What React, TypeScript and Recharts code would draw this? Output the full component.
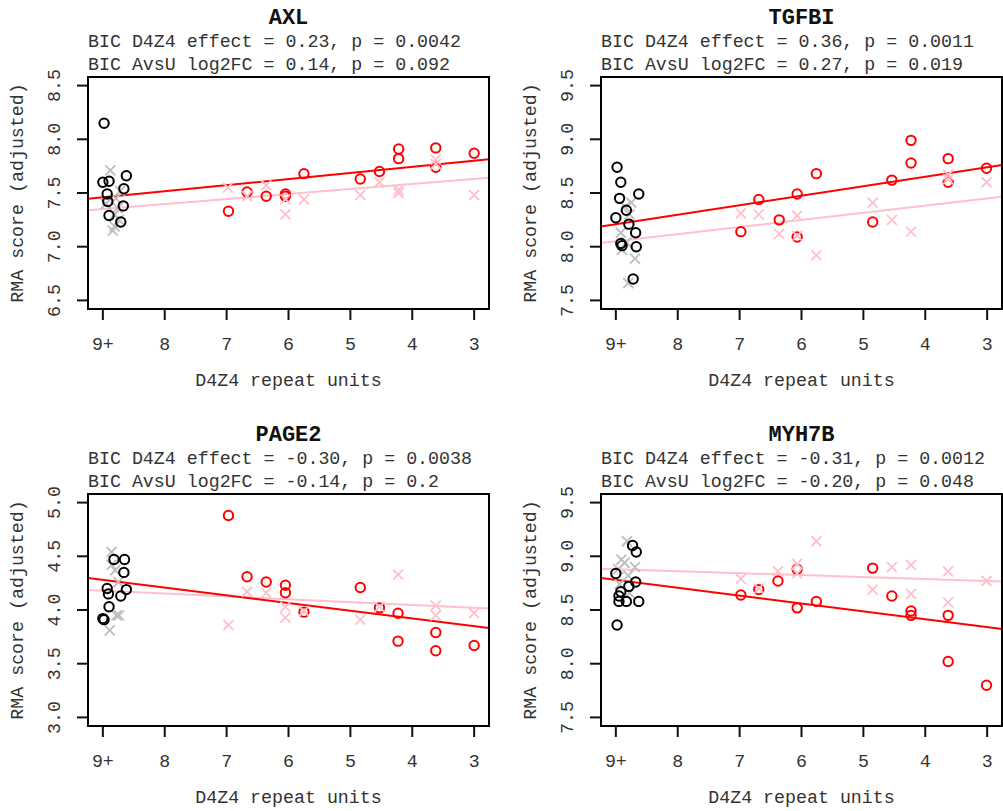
import { ReferenceLine, Scatter, ScatterChart, XAxis, YAxis } from 'recharts';

type Pt = [number, number];

// x axis: D4Z4 repeat units, 9+ drawn at 9, axis runs right to left
const xTicks = [9, 8, 7, 6, 5, 4, 3];
const xTickLabels = ['9+', '8', '7', '6', '5', '4', '3'];
const xDomain: [number, number] = [2.76, 9.24];

// ---- AXL ----
const axlCtrlCircles: Pt[] = [
  [8.98, 8.15], [9.0, 7.6], [8.9, 7.61], [8.62, 7.66], [8.66, 7.54],
  [8.93, 7.49], [8.92, 7.42], [8.67, 7.38], [8.9, 7.29], [8.71, 7.23],
];
const axlCtrlCrosses: Pt[] = [
  [8.88, 7.71], [8.79, 7.45], [8.76, 7.36], [8.81, 7.3], [8.74, 7.25],
  [8.81, 7.19], [8.84, 7.15], [8.95, 7.4], [8.72, 7.52],
];
const axlCircles: Pt[] = [
  [6.97, 7.33], [6.67, 7.51], [6.36, 7.47], [6.05, 7.49], [6.05, 7.47], [5.75, 7.68],
  [4.84, 7.63], [4.53, 7.7], [4.22, 7.91], [4.22, 7.82], [3.62, 7.92], [3.62, 7.74], [3.0, 7.87],
];
const axlCrosses: Pt[] = [
  [6.98, 7.55], [6.67, 7.47], [6.36, 7.57], [6.05, 7.44], [6.05, 7.3], [5.75, 7.44],
  [4.84, 7.48], [4.53, 7.6], [4.22, 7.53], [4.22, 7.5], [3.62, 7.81], [3.62, 7.77], [3.0, 7.48],
];
// fitted values at x = 9 and x = 3
const axlFitCircles = [7.46, 7.8];
const axlFitCrosses = [7.35, 7.63];

// ---- TGFBI ----
const tgfbiCtrlCircles: Pt[] = [
  [8.98, 8.74], [8.92, 8.6], [8.94, 8.45], [8.63, 8.49], [8.83, 8.34], [9.0, 8.27],
  [8.79, 8.21], [8.68, 8.13], [8.92, 8.03], [8.9, 8.01], [8.67, 8.0], [8.72, 7.7],
];
const tgfbiCtrlCrosses: Pt[] = [
  [8.75, 8.41], [8.85, 8.37], [8.92, 8.13], [8.9, 7.97], [8.69, 7.89],
  [8.8, 7.66], [8.83, 8.04], [8.78, 8.3],
];
const tgfbiCircles: Pt[] = [
  [6.98, 8.14], [6.69, 8.44], [6.36, 8.25], [6.07, 8.49], [6.07, 8.09], [5.76, 8.68],
  [4.85, 8.23], [4.54, 8.62], [4.23, 8.99], [4.23, 8.78], [3.63, 8.82], [3.63, 8.6], [3.01, 8.73],
];
const tgfbiCrosses: Pt[] = [
  [6.98, 8.31], [6.69, 8.3], [6.36, 8.12], [6.07, 8.29], [6.07, 8.1], [5.76, 7.92],
  [4.85, 8.41], [4.54, 8.25], [4.23, 8.14], [3.63, 8.67], [3.63, 8.63], [3.01, 8.6],
];
const tgfbiFitCircles = [8.21, 8.74];
const tgfbiFitCrosses = [8.05, 8.45];

// ---- PAGE2 ----
const page2CtrlCircles: Pt[] = [
  [8.82, 4.47], [8.65, 4.47], [8.66, 4.35], [8.93, 4.2], [8.62, 4.19],
  [8.91, 4.15], [8.71, 4.13], [8.9, 4.03], [9.0, 3.92], [8.98, 3.91],
];
const page2CtrlCrosses: Pt[] = [
  [8.86, 4.54], [8.86, 4.42], [8.75, 4.26], [8.78, 3.95], [8.74, 3.95], [8.89, 3.81], [8.8, 4.37],
];
const page2Circles: Pt[] = [
  [6.97, 4.88], [6.67, 4.31], [6.36, 4.26], [6.05, 4.23], [6.05, 4.16], [5.75, 3.98],
  [4.84, 4.21], [4.53, 4.02], [4.23, 3.97], [4.23, 3.71], [3.62, 3.79], [3.62, 3.62], [3.0, 3.67],
];
const page2Crosses: Pt[] = [
  [6.97, 3.86], [6.67, 4.17], [6.36, 4.16], [6.05, 4.03], [6.05, 3.93], [5.75, 3.99],
  [4.84, 3.91], [4.53, 4.03], [4.23, 4.33], [3.62, 4.04], [3.62, 3.95], [3.0, 3.97],
];
const page2FitCircles = [4.28, 3.85];
const page2FitCrosses = [4.18, 4.02];

// ---- MYH7B ----
const myh7bCtrlCircles: Pt[] = [
  [8.73, 9.1], [8.67, 9.04], [9.0, 8.84], [8.68, 8.76], [8.79, 8.72], [8.92, 8.67],
  [8.95, 8.63], [8.95, 8.58], [8.83, 8.58], [8.63, 8.58], [8.98, 8.36],
];
const myh7bCtrlCrosses: Pt[] = [
  [8.82, 9.14], [8.91, 8.97], [8.86, 8.94], [8.96, 8.88], [8.69, 8.9],
  [8.8, 8.82], [8.94, 8.74], [8.78, 8.66],
];
const myh7bCircles: Pt[] = [
  [6.98, 8.64], [6.69, 8.69], [6.38, 8.77], [6.07, 8.88], [6.07, 8.52], [5.76, 8.58],
  [4.85, 8.89], [4.54, 8.63], [4.23, 8.49], [4.23, 8.45], [3.63, 8.45], [3.63, 8.02], [3.01, 7.8],
];
const myh7bCrosses: Pt[] = [
  [6.98, 8.79], [6.69, 8.7], [6.38, 8.86], [6.07, 8.93], [6.07, 8.84], [5.76, 9.14],
  [4.85, 8.69], [4.54, 8.9], [4.23, 8.92], [4.23, 8.65], [3.63, 8.86], [3.63, 8.57], [3.01, 8.77],
];
const myh7bFitCircles = [8.78, 8.34];
const myh7bFitCrosses = [8.88, 8.77];

const FONT = "'Liberation Mono', 'DejaVu Sans Mono', monospace";
const FS = 18.3;
const TXT = '#333';
const TICK = { stroke: '#111', strokeWidth: 2 };

const toObjs = (pts: Pt[]) => pts.map(([x, y]) => ({ x, y }));

// abline across the whole plot region through the fitted values at 9 and 3
const ablineSegment = (fit: number[]) => {
  const slope = (fit[1] - fit[0]) / (3 - 9);
  return xDomain.map((x) => ({ x, y: fit[0] + slope * (x - 9) }));
};

const circleShape = (color: string) => (props: any) => (
  <circle cx={props.cx} cy={props.cy} r={4.7} fill="none" stroke={color} strokeWidth={2} />
);
const crossShape = (color: string) => (props: any) => {
  const { cx, cy } = props;
  const s = 5;
  return (
    <path d={`M${cx - s},${cy - s}L${cx + s},${cy + s}M${cx - s},${cy + s}L${cx + s},${cy - s}`} stroke={color} strokeWidth={1.8} fill="none" />
  );
};

const XTick = (props: any) => {
  const { x, y, payload } = props;
  const idx = xTicks.indexOf(payload.value);
  return (
    <text x={x} y={y + 23} textAnchor="middle" dominantBaseline="central" fontFamily={FONT} fontSize={FS} fill={TXT}>
      {xTickLabels[idx]}
    </text>
  );
};

const YTick = (props: any) => {
  const { x, y, payload } = props;
  const tx = x - 20;
  return (
    <text x={tx} y={y} transform={`rotate(-90, ${tx}, ${y})`} textAnchor="middle" dominantBaseline="central" fontFamily={FONT} fontSize={FS} fill={TXT}>
      {Number(payload.value).toFixed(1)}
    </text>
  );
};

interface PanelProps {
  left: number;
  top: number;
  gene: string;
  line1: string;
  line2: string;
  yTicks: number[];
  ctrlCircles: Pt[];
  ctrlCrosses: Pt[];
  circles: Pt[];
  crosses: Pt[];
  fitCircles: number[];
  fitCrosses: number[];
}

const W = 513;
const H = 417;
const BOX_L = 88;
const BOX_T = 77;
const BOX_W = 401;
const BOX_H = 232;

const Panel = ({ left, top, gene, line1, line2, yTicks, ctrlCircles, ctrlCrosses, circles, crosses, fitCircles, fitCrosses }: PanelProps) => {
  const pad = (yTicks[yTicks.length - 1] - yTicks[0]) * 0.04;
  const yDomain: [number, number] = [yTicks[0] - pad, yTicks[yTicks.length - 1] + pad];
  const txt = { position: 'absolute' as const, fontFamily: FONT, fontSize: FS, color: TXT, whiteSpace: 'nowrap' as const, lineHeight: '22px' };
  return (
    <div style={{ position: 'absolute', left, top, width: W, height: H }}>
      <div style={{ ...txt, left: BOX_L, width: BOX_W, top: 8, textAlign: 'center', fontWeight: 'bold', fontSize: 22, color: '#111' }}>{gene}</div>
      <div style={{ ...txt, left: BOX_L, top: 31 }}>{line1}</div>
      <div style={{ ...txt, left: BOX_L, top: 54 }}>{line2}</div>
      <div style={{ ...txt, left: BOX_L, width: BOX_W, top: 370, textAlign: 'center' }}>D4Z4 repeat units</div>
      <div style={{ ...txt, left: 18, top: BOX_T + BOX_H / 2, transform: 'translate(-50%, -50%) rotate(-90deg)' }}>RMA score (adjusted)</div>
      <div style={{ position: 'absolute', left: 0, top: 0 }}>
        <ScatterChart width={W} height={H} margin={{ top: BOX_T, right: W - BOX_L - BOX_W, bottom: 0, left: 0 }}>
          <XAxis
            type="number"
            dataKey="x"
            domain={xDomain}
            reversed
            ticks={xTicks}
            height={H - BOX_T - BOX_H}
            axisLine={false}
            tickSize={11}
            tickLine={TICK}
            tick={<XTick />}
            allowDataOverflow
            interval={0}
          />
          <YAxis
            type="number"
            dataKey="y"
            domain={yDomain}
            ticks={yTicks}
            width={BOX_L}
            axisLine={false}
            tickSize={11}
            tickLine={TICK}
            tick={<YTick />}
            allowDataOverflow
            interval={0}
          />
          <Scatter data={toObjs(ctrlCrosses)} shape={crossShape('#bebebe')} isAnimationActive={false} />
          <Scatter data={toObjs(ctrlCircles)} shape={circleShape('#000')} isAnimationActive={false} />
          <Scatter data={toObjs(circles)} shape={circleShape('#ff0000')} isAnimationActive={false} />
          <Scatter data={toObjs(crosses)} shape={crossShape('#ffc0cb')} isAnimationActive={false} />
          <ReferenceLine segment={ablineSegment(fitCrosses)} stroke="#ffc0cb" strokeWidth={2} ifOverflow="visible" />
          <ReferenceLine segment={ablineSegment(fitCircles)} stroke="#ff0000" strokeWidth={2} ifOverflow="visible" />
        </ScatterChart>
      </div>
      {/* plot frame (R box()), a 2px ring centred on the plot edges */}
      <div
        style={{
          position: 'absolute',
          left: BOX_L + 1,
          top: BOX_T + 1,
          width: BOX_W - 2,
          height: BOX_H - 2,
          boxShadow: '0 0 0 2px #000',
          zIndex: 5,
        }}
      />
    </div>
  );
};

export default function App() {
  return (
    <div style={{ position: 'absolute', left: 0, top: 0, width: 1003, height: 811, overflow: 'hidden', background: '#fff' }}>
      <Panel
        left={0}
        top={0}
        gene="AXL"
        line1="BIC D4Z4 effect = 0.23, p = 0.0042"
        line2="BIC AvsU log2FC = 0.14, p = 0.092"
        yTicks={[6.5, 7.0, 7.5, 8.0, 8.5]}
        ctrlCircles={axlCtrlCircles}
        ctrlCrosses={axlCtrlCrosses}
        circles={axlCircles}
        crosses={axlCrosses}
        fitCircles={axlFitCircles}
        fitCrosses={axlFitCrosses}
      />
      <Panel
        left={513}
        top={0}
        gene="TGFBI"
        line1="BIC D4Z4 effect = 0.36, p = 0.0011"
        line2="BIC AvsU log2FC = 0.27, p = 0.019"
        yTicks={[7.5, 8.0, 8.5, 9.0, 9.5]}
        ctrlCircles={tgfbiCtrlCircles}
        ctrlCrosses={tgfbiCtrlCrosses}
        circles={tgfbiCircles}
        crosses={tgfbiCrosses}
        fitCircles={tgfbiFitCircles}
        fitCrosses={tgfbiFitCrosses}
      />
      <Panel
        left={0}
        top={417}
        gene="PAGE2"
        line1="BIC D4Z4 effect = -0.30, p = 0.0038"
        line2="BIC AvsU log2FC = -0.14, p = 0.2"
        yTicks={[3.0, 3.5, 4.0, 4.5, 5.0]}
        ctrlCircles={page2CtrlCircles}
        ctrlCrosses={page2CtrlCrosses}
        circles={page2Circles}
        crosses={page2Crosses}
        fitCircles={page2FitCircles}
        fitCrosses={page2FitCrosses}
      />
      <Panel
        left={513}
        top={417}
        gene="MYH7B"
        line1="BIC D4Z4 effect = -0.31, p = 0.0012"
        line2="BIC AvsU log2FC = -0.20, p = 0.048"
        yTicks={[7.5, 8.0, 8.5, 9.0, 9.5]}
        ctrlCircles={myh7bCtrlCircles}
        ctrlCrosses={myh7bCtrlCrosses}
        circles={myh7bCircles}
        crosses={myh7bCrosses}
        fitCircles={myh7bFitCircles}
        fitCrosses={myh7bFitCrosses}
      />
    </div>
  );
}
